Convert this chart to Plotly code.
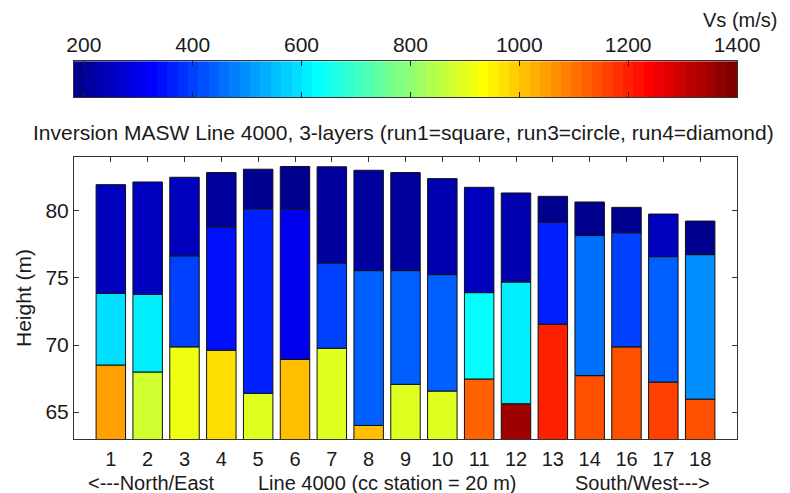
import numpy as np
import plotly.graph_objects as go

# ---------------- data ----------------
stations = ["1", "2", "3", "4", "5", "6", "7", "8", "9", "10", "11", "12", "13", "14", "16", "17", "18"]

# layer boundaries (height, m)
surface = [81.94, 82.14, 82.49, 82.84, 83.09, 83.29, 83.27, 83.01, 82.84, 82.39,
           81.74, 81.32, 81.07, 80.65, 80.25, 79.75, 79.23]
interface1 = [73.85, 73.77, 76.64, 78.80, 80.15, 80.15, 76.11, 75.54, 75.54, 75.24,
              73.90, 74.69, 79.16, 78.15, 78.36, 76.58, 76.73]
interface2 = [68.51, 67.99, 69.86, 69.61, 66.40, 68.92, 69.76, 64.01, 67.07, 66.57,
              67.47, 65.63, 71.55, 67.72, 69.86, 67.24, 65.97]

# shear-wave velocity of each layer (m/s)
vs_layer1 = [249, 249, 249, 220, 192, 192, 211, 211, 211, 230,
             249, 230, 192, 192, 192, 255, 192]
vs_layer2 = [591, 610, 401, 345, 363, 306, 401, 439, 439, 439,
             629, 610, 363, 458, 401, 439, 496]
vs_layer3 = [1048, 886, 924, 973, 905, 1010, 905, 1010, 905, 905,
             1125, 1344, 1201, 1144, 1144, 1160, 1144]

vs_min, vs_max = 182, 1400
cbar_ticks = [200, 400, 600, 800, 1000, 1200, 1400]
height_ticks = [65, 70, 75, 80]
height_range = [63, 84]

# ---------------- MATLAB jet(64) colormap ----------------
def jet64():
    n, m = 64, 16
    u = [i / m for i in range(1, m + 1)] + [1.0] * (m - 1) + [i / m for i in range(m, 0, -1)]
    J = np.zeros((n, 3))
    g0 = 8
    for i, val in enumerate(u):
        gi = g0 + i + 1
        ri = gi + m
        bi = gi - m
        for idx, ch in ((ri, 0), (gi, 1), (bi, 2)):
            if 1 <= idx <= n:
                J[idx - 1, ch] = val
    return J

J = jet64()
jet_scale = []
for k in range(64):
    c = "rgb(%d,%d,%d)" % tuple(int(round(v * 255)) for v in J[k])
    jet_scale.append([k / 64, c])
    jet_scale.append([(k + 1) / 64, c])

FONT = "Liberation Sans, Arial, sans-serif"
FS = 21
FS_BOT = 20
outline = dict(color="#111111", width=1)

fig = go.Figure()

# bottom layer (from below axis to interface2)
fig.add_trace(go.Bar(
    x=stations, y=interface2, base=[0] * len(stations),
    marker=dict(color=vs_layer3, colorscale=jet_scale, cmin=vs_min, cmax=vs_max, line=outline),
    width=0.8, showlegend=False, hoverinfo="skip"))
# middle layer
fig.add_trace(go.Bar(
    x=stations, y=[a - b for a, b in zip(interface1, interface2)], base=interface2,
    marker=dict(color=vs_layer2, colorscale=jet_scale, cmin=vs_min, cmax=vs_max, line=outline),
    width=0.8, showlegend=False, hoverinfo="skip"))
# top layer
fig.add_trace(go.Bar(
    x=stations, y=[a - b for a, b in zip(surface, interface1)], base=interface1,
    marker=dict(color=vs_layer1, colorscale=jet_scale, cmin=vs_min, cmax=vs_max, line=outline),
    width=0.8, showlegend=False, hoverinfo="skip"))

# colour bar drawn as a heatmap strip
edges = np.linspace(vs_min, vs_max, 65)
centers = (edges[:-1] + edges[1:]) / 2
fig.add_trace(go.Heatmap(
    x=edges, y=[0, 1], z=[centers], colorscale=jet_scale, zmin=vs_min, zmax=vs_max,
    showscale=False, xaxis="x2", yaxis="y2", hoverinfo="skip"))

# invisible trace to anchor top tick axis
fig.add_trace(go.Scatter(x=[0], y=[height_range[0] - 10], xaxis="x3", yaxis="y",
                         mode="markers", marker=dict(opacity=0), showlegend=False, hoverinfo="skip"))

fig.update_layout(
    width=790, height=493,
    margin=dict(l=74, r=53, t=55, b=54),
    paper_bgcolor="white", plot_bgcolor="white",
    font=dict(family=FONT, size=FS, color="#1a1a1a"),
    barmode="overlay",
    xaxis=dict(domain=[0, 1], anchor="y", type="category", range=[-1, len(stations)],
               showline=True, linecolor="#333333", linewidth=1, mirror=True,
               ticks="", showgrid=False, tickfont=dict(size=FS_BOT), automargin=False,
               ticklabelstandoff=2),
    xaxis3=dict(overlaying="x", anchor="y", side="top", range=[-1, len(stations)],
                tickvals=list(range(len(stations))), ticks="inside", ticklen=5,
                tickcolor="#333333", showticklabels=False, showline=False,
                showgrid=False, zeroline=False, automargin=False),
    yaxis=dict(domain=[0, 0.7344], anchor="x", range=height_range, tickvals=height_ticks,
               ticks="inside", ticklen=5, tickcolor="#333333", showline=True,
               linecolor="#333333", linewidth=1, mirror="ticks", showgrid=False,
               zeroline=False, tickfont=dict(size=FS), automargin=False,
               title=dict(text="Height (m)", font=dict(size=FS), standoff=8)),
    xaxis2=dict(domain=[0, 1], anchor="y2", side="top", range=[vs_min, vs_max],
                tickvals=cbar_ticks, ticks="inside", ticklen=5, tickcolor="#222222",
                showline=True, linecolor="#333333", linewidth=1, mirror="ticks",
                showgrid=False, zeroline=False, tickfont=dict(size=FS), automargin=False),
    yaxis2=dict(domain=[0.8906, 0.984], anchor="x2", range=[0, 1], showticklabels=False,
                ticks="", showline=True, linecolor="#333333", linewidth=1, mirror=True,
                showgrid=False, zeroline=False, automargin=False),
    annotations=[
        dict(text="Vs (m/s)", xref="paper", yref="paper", x=1.063, y=1.09,
             xanchor="right", yanchor="middle", showarrow=False, font=dict(size=FS_BOT)),
        dict(text="Inversion MASW Line 4000, 3-layers (run1=square, run3=circle, run4=diamond)",
             xref="paper", yref="paper", x=0.497, y=0.797, xanchor="center",
             yanchor="middle", showarrow=False, font=dict(size=FS)),
        dict(text="<---North/East", xref="paper", yref="paper", x=0.018, y=-0.1146,
             xanchor="left", yanchor="middle", showarrow=False, font=dict(size=FS_BOT)),
        dict(text="Line 4000 (cc station = 20 m)", xref="paper", yref="paper", x=0.472,
             y=-0.1146, xanchor="center", yanchor="middle", showarrow=False,
             font=dict(size=FS_BOT)),
        dict(text="South/West--->", xref="paper", yref="paper", x=0.962, y=-0.1146,
             xanchor="right", yanchor="middle", showarrow=False, font=dict(size=FS_BOT)),
    ],
)

fig.write_html("out.html", config={"displayModeBar": False},
               post_script="document.body.style.margin='0';document.body.style.overflow='hidden';")
